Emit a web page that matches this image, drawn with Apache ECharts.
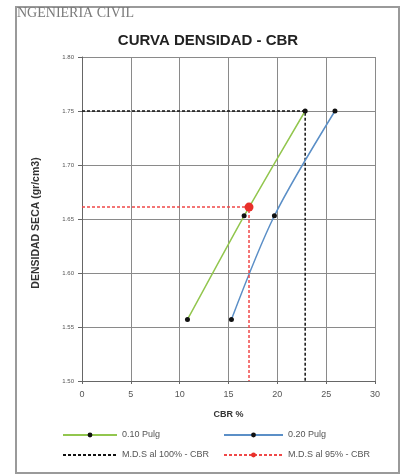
<!DOCTYPE html>
<html><head><meta charset="utf-8">
<script src="https://cdn.jsdelivr.net/npm/echarts@6/dist/echarts.min.js"></script>
<style>html,body{margin:0;padding:0;background:#fff}#c{width:400px;height:476px}</style>
</head><body><div id="c"></div>
<script>
const title = 'CURVA DENSIDAD - CBR';
const header = 'NGENIERIA CIVIL';
const xName = 'CBR %';
const yName = 'DENSIDAD SECA (gr/cm3)';
const seriesNames = ['0.10 Pulg', '0.20 Pulg', 'M.D.S al 100% - CBR', 'M.D.S al 95% - CBR'];
const cbr010 = [10.8, 16.6, 22.85];
const dens010 = [1.557, 1.653, 1.75];
const cbr020 = [15.3, 19.7, 25.9];
const dens020 = [1.557, 1.653, 1.75];
const mds100X = [0, 22.85, 22.85];
const mds100Y = [1.75, 1.75, 1.50];
const mds95X = [0, 17.1, 17.1];
const mds95Y = [1.661, 1.661, 1.50];

const pairs = (xs, ys) => xs.map((x, i) => [x, ys[i]]);
const chart = echarts.init(document.getElementById('c'));
const font = 'Liberation Sans, Arial, sans-serif';
const legText = { fontFamily: font, fontSize: 9, color: '#555', lineHeight: 10 };
chart.setOption({
  animation: false,
  backgroundColor: '#fff',
  title: { text: title, left: 208, top: 33, textAlign: 'center', padding: 0,
    textStyle: { fontFamily: font, fontSize: 15, fontWeight: 'bold', color: '#222' } },
  graphic: [
    { type: 'rect', shape: { x: 16, y: 7, width: 383, height: 466 },
      style: { fill: 'none', stroke: '#9a9a9a', lineWidth: 2 }, z: -1 },
    { type: 'text', left: 17, top: 6,
      style: { text: header, fill: '#7a7a7a', font: '14px "Liberation Serif", serif' } }
  ],
  grid: { left: 82, right: 25, top: 57, bottom: 95 },
  xAxis: { type: 'value', min: 0, max: 30, interval: 5,
    name: xName, nameLocation: 'middle', nameGap: 29,
    nameTextStyle: { fontFamily: font, fontSize: 9, fontWeight: 'bold', color: '#333' },
    axisLine: { lineStyle: { color: '#666', width: 1 } },
    axisTick: { show: true, length: 3, lineStyle: { color: '#666' } },
    axisLabel: { fontFamily: font, fontSize: 9, color: '#555', margin: 9 },
    splitLine: { show: true, lineStyle: { color: '#8a8a8a', width: 1 } } },
  yAxis: { type: 'value', min: 1.5, max: 1.8, interval: 0.05,
    name: yName, nameLocation: 'middle', nameGap: 40, nameRotate: 90,
    nameTextStyle: { fontFamily: font, fontSize: 10.5, fontWeight: 'bold', color: '#333',
      padding: [0, 8, 0, 0] },
    axisLine: { show: true, lineStyle: { color: '#666', width: 1 } },
    axisTick: { show: true, length: 4, lineStyle: { color: '#666' } },
    axisLabel: { fontFamily: font, fontSize: 6, color: '#555', margin: 8,
      formatter: v => v.toFixed(2) },
    splitLine: { show: true, lineStyle: { color: '#8a8a8a', width: 1 } } },
  legend: [
    { data: [seriesNames[0], { name: seriesNames[2], itemStyle: { opacity: 0 } }],
      orient: 'vertical', left: 62, top: 430, padding: 0,
      itemWidth: 54, itemHeight: 6, itemGap: 10, textStyle: legText },
    { data: [seriesNames[1], seriesNames[3]], orient: 'vertical', left: 223, top: 430, padding: 0,
      itemWidth: 59, itemHeight: 6, itemGap: 10, textStyle: legText }
  ],
  series: [
    { name: seriesNames[0], type: 'line', smooth: 0.2, data: pairs(cbr010, dens010),
      symbol: 'circle', symbolSize: 5, itemStyle: { color: '#111' },
      lineStyle: { color: '#92c64e', width: 1.5 } },
    { name: seriesNames[1], type: 'line', smooth: 0.3, data: pairs(cbr020, dens020),
      symbol: 'circle', symbolSize: 5, itemStyle: { color: '#111' },
      lineStyle: { color: '#5b8fc7', width: 1.5 } },
    { name: seriesNames[2], type: 'line', data: pairs(mds100X, mds100Y),
      symbol: 'none', itemStyle: { color: '#111' },
      lineStyle: { color: '#111', width: 1.5, type: [3, 2] }, z: 1 },
    { name: seriesNames[3], type: 'line', symbol: 'circle', symbolSize: 9,
      itemStyle: { color: '#e8302a' },
      data: pairs(mds95X, mds95Y).map((p, i) => i === 1 ? { value: p } : { value: p, symbol: 'none' }),
      lineStyle: { color: '#f04848', width: 1.5, type: [3, 2] }, z: 3 }
  ]
});
</script></body></html>
